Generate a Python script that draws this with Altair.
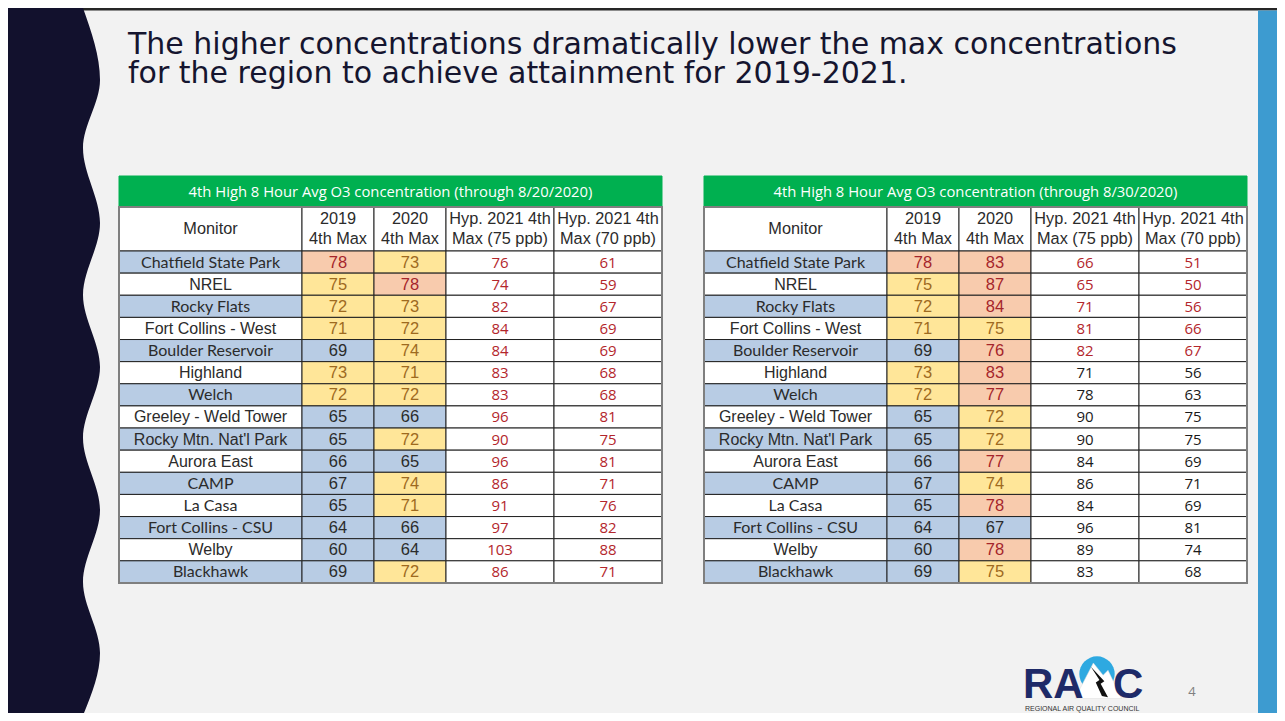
import altair as alt
import pandas as pd

# ---------------- data ----------------
TITLE_LINES = [
    "The higher concentrations dramatically lower the max concentrations",
    "for the region to achieve attainment for 2019-2021.",
]
table_titles = [
    "4th High 8 Hour Avg O3 concentration (through 8/20/2020)",
    "4th High 8 Hour Avg O3 concentration (through 8/30/2020)",
]
col_headers = ["Monitor", "2019\n4th Max", "2020\n4th Max",
               "Hyp. 2021 4th\nMax (75 ppb)", "Hyp. 2021 4th\nMax (70 ppb)"]
monitors = ["Chatfield State Park", "NREL", "Rocky Flats", "Fort Collins - West",
            "Boulder Reservoir", "Highland", "Welch", "Greeley - Weld Tower",
            "Rocky Mtn. Nat'l Park", "Aurora East", "CAMP", "La Casa",
            "Fort Collins - CSU", "Welby", "Blackhawk"]

t1_2019 = [78, 75, 72, 71, 69, 73, 72, 65, 65, 66, 67, 65, 64, 60, 69]
t1_2020 = [73, 78, 73, 72, 74, 71, 72, 66, 72, 65, 74, 71, 66, 64, 72]
t1_h75 = [76, 74, 82, 84, 84, 83, 83, 96, 90, 96, 86, 91, 97, 103, 86]
t1_h70 = [61, 59, 67, 69, 69, 68, 68, 81, 75, 81, 71, 76, 82, 88, 71]

t2_2019 = [78, 75, 72, 71, 69, 73, 72, 65, 65, 66, 67, 65, 64, 60, 69]
t2_2020 = [83, 87, 84, 75, 76, 83, 77, 72, 72, 77, 74, 78, 67, 78, 75]
t2_h75 = [66, 65, 71, 81, 82, 71, 78, 90, 90, 84, 86, 84, 96, 89, 83]
t2_h70 = [51, 50, 56, 66, 67, 56, 63, 75, 75, 69, 71, 69, 81, 74, 68]

# rows whose hypothetical values are flagged (red text)
t1_flag = [True] * 15
t2_flag = [True] * 5 + [False] * 10

page_number = "4"

# ---------------- layout / style ----------------
W, H = 1269, 705          # fits the 1285x721 window with the 8px page margin
TABLE_LEFT = [119, 704]
COL_EDGES = [0, 183, 255, 327, 435, 543]
GREEN_TOP, HEAD_TOP, BODY_TOP, ROW_H = 176, 207, 251, 22.13

BLUE, YELLOW, SALMON, WHITE = "#B8CCE4", "#FFE699", "#F8CBAD", "#FFFFFF"
TXT_DARK, TXT_YEL, TXT_RED, HYP_RED = "#2B2B2B", "#9E6A1F", "#A5252B", "#B3262C"
NAVY = "#12112D"
# monitor names set in the narrower (Calibri-like) face in the source table
HUMANIST_NAMES = {"Chatfield State Park", "Rocky Flats", "Boulder Reservoir", "Welch",
                  "CAMP", "La Casa", "Fort Collins - CSU", "Blackhawk"}


def level(v):
    if v >= 76:
        return SALMON, TXT_RED
    if v >= 70:
        return YELLOW, TXT_YEL
    return BLUE, TXT_DARK


cells, texts = [], []
tables = [
    (t1_2019, t1_2020, t1_h75, t1_h70, t1_flag),
    (t2_2019, t2_2020, t2_h75, t2_h70, t2_flag),
]
for t, (a, b, c, d, flag) in enumerate(tables):
    L = TABLE_LEFT[t]
    right = L + COL_EDGES[-1]
    cells.append(dict(x=L, x2=right, y=GREEN_TOP, y2=HEAD_TOP, fill="#00B050", stroke="#00B050"))
    texts.append(dict(xc=(L + right) / 2, yc=(GREEN_TOP + HEAD_TOP) / 2 + 1, text=table_titles[t],
                      color="#FFFFFF", grp="green"))
    for k, h in enumerate(col_headers):
        x0, x1 = L + COL_EDGES[k], L + COL_EDGES[k + 1]
        cells.append(dict(x=x0, x2=x1, y=HEAD_TOP, y2=BODY_TOP, fill=WHITE, stroke="#222222"))
        yc = (HEAD_TOP + BODY_TOP) / 2 if "\n" not in h else HEAD_TOP + 12
        texts.append(dict(xc=(x0 + x1) / 2, yc=yc, text=h, color=TXT_DARK, grp="head"))
    for i, m in enumerate(monitors):
        y0 = BODY_TOP + i * ROW_H
        y1 = y0 + ROW_H
        yc = (y0 + y1) / 2 + 0.5
        row = [m, a[i], b[i], c[i], d[i]]
        for k, v in enumerate(row):
            x0, x1 = L + COL_EDGES[k], L + COL_EDGES[k + 1]
            if k == 0:
                fill, col = (BLUE if i % 2 == 0 else WHITE), TXT_DARK
                grp = "name_h" if m in HUMANIST_NAMES else "name"
            elif k in (1, 2):
                fill, col = level(v)
                grp = "num"
            else:
                fill, col, grp = WHITE, (HYP_RED if flag[i] else "#1A1A1A"), "hyp"
            cells.append(dict(x=x0, x2=x1, y=y0, y2=y1, fill=fill, stroke="#222222"))
            texts.append(dict(xc=(x0 + x1) / 2, yc=yc, text=str(v), color=col, grp=grp))
cells_df = pd.DataFrame(cells)
texts_df = pd.DataFrame(texts)
frames_df = pd.DataFrame([dict(x=L, x2=L + COL_EDGES[-1], y=HEAD_TOP, y2=BODY_TOP + 15 * ROW_H)
                          for L in TABLE_LEFT])

xs = alt.Scale(domain=[8, 8 + W], nice=False, zero=False)
ys = alt.Scale(domain=[8, 8 + H], nice=False, zero=False, reverse=True)
X = lambda f: alt.X(f, type="quantitative", scale=xs, axis=None)
Y = lambda f: alt.Y(f, type="quantitative", scale=ys, axis=None)

# decorations
wave_df = pd.DataFrame(dict(
    y=[8, 80, 148, 223, 295, 367, 438, 510, 582, 653, 713],
    x=[83, 100, 83, 100, 83, 100, 83, 100, 83, 100, 84],
))
wave_df["x0"] = 8
wave = alt.Chart(wave_df).mark_area(orient="horizontal", interpolate="monotone", color=NAVY).encode(
    y=Y("y"), x=X("x"), x2="x0")

deco_df = pd.DataFrame([
    dict(x=8, x2=8 + W, y=8, y2=10.5, fill="#262626"),
    dict(x=1258, x2=8 + W, y=10.5, y2=8 + H, fill="#3D9BD0"),
])
deco = alt.Chart(deco_df).mark_rect().encode(
    x=X("x"), x2="x2", y=Y("y"), y2="y2", fill=alt.Fill("fill:N", scale=None))

rects = alt.Chart(cells_df).mark_rect(strokeWidth=1).encode(
    x=X("x"), x2="x2", y=Y("y"), y2="y2",
    fill=alt.Fill("fill:N", scale=None), stroke=alt.Stroke("stroke:N", scale=None))
frames = alt.Chart(frames_df).mark_rect(fillOpacity=0, stroke="#7F7F7F", strokeWidth=2).encode(
    x=X("x"), x2="x2", y=Y("y"), y2="y2")


def text_layer(grp, **kw):
    return alt.Chart(texts_df).transform_filter(alt.datum.grp == grp).mark_text(
        baseline="middle", align="center", **kw).encode(
        x=X("xc"), y=Y("yc"), text="text:N", color=alt.Color("color:N", scale=None))


t_green = text_layer("green", font="Open Sans", fontSize=14.8)
t_head = text_layer("head", font="Liberation Sans", fontSize=16.3, lineBreak="\n", lineHeight=20)
t_name = text_layer("name", font="Liberation Sans", fontSize=16)
t_name_h = text_layer("name_h", font="Lato", fontSize=16)
t_num = text_layer("num", font="Liberation Sans", fontSize=16.5)
t_hyp = text_layer("hyp", font="Open Sans", fontSize=15)

# two-line slide title as one text block
title_df = pd.DataFrame(dict(x=[128], y=[54], text=["\n".join(TITLE_LINES)]))
title = alt.Chart(title_df).mark_text(align="left", baseline="alphabetic", font="DejaVu Sans",
                                      fontSize=30, lineBreak="\n", lineHeight=29,
                                      color="#15152F").encode(
    x=X("x"), y=Y("y"), text="text:N")

# logo
logo_txt_df = pd.DataFrame([
    dict(x=1023, y=698, text="RA", g="big"),
    dict(x=1113, y=698, text="C", g="big"),
    dict(x=1025, y=710.5, text="REGIONAL AIR QUALITY COUNCIL", g="small"),
])
logo_big = alt.Chart(logo_txt_df).transform_filter(alt.datum.g == "big").mark_text(
    align="left", baseline="alphabetic", font="Liberation Sans", fontWeight="bold",
    fontSize=42, color="#1E2A68").encode(x=X("x"), y=Y("y"), text="text:N")
logo_small = alt.Chart(logo_txt_df).transform_filter(alt.datum.g == "small").mark_text(
    align="left", baseline="alphabetic", font="Liberation Sans", fontSize=7,
    color="#333333").encode(x=X("x"), y=Y("y"), text="text:N")
logo_sym_df = pd.DataFrame([dict(x=1097, y=674)])
sun = alt.Chart(logo_sym_df).mark_point(shape="circle", filled=True, size=1250, color="#2EA9E1",
                                         opacity=1).encode(x=X("x"), y=Y("y"))
mountain = alt.Chart(logo_sym_df).mark_point(
    shape="M-0.9,1L-0.15,-0.45L0.25,0.05L0.45,-0.15L1,1Z", filled=True, size=2400,
    color="#FFFFFF", opacity=1, stroke="#DDDDDD", strokeWidth=0.5).encode(x=X("x"), y=Y("y"))
ridges = alt.Chart(logo_sym_df).mark_point(
    shape="M-0.25,-0.3L0.1,0.25L-0.05,0.35L0.2,0.9L0.45,0.95L0.15,0.4L0.3,0.3Z", filled=True,
    size=2400, color="#111111", opacity=1).encode(x=X("x"), y=Y("y"))

pn_df = pd.DataFrame([dict(x=1192, y=692, text=page_number)])
pn = alt.Chart(pn_df).mark_text(font="Open Sans", fontSize=13, color="#808080",
                                baseline="middle").encode(x=X("x"), y=Y("y"), text="text:N")

chart = alt.layer(
    deco, wave, title, rects, frames, t_green, t_head, t_name, t_name_h, t_num, t_hyp,
    sun, mountain, ridges, logo_big, logo_small, pn,
).properties(
    width=W, height=H, autosize=alt.AutoSizeParams(type="none"), padding=0,
    background="#F2F2F2",
).configure_view(stroke=None)

chart.save("out.html", embed_options={"renderer": "svg", "actions": False})
